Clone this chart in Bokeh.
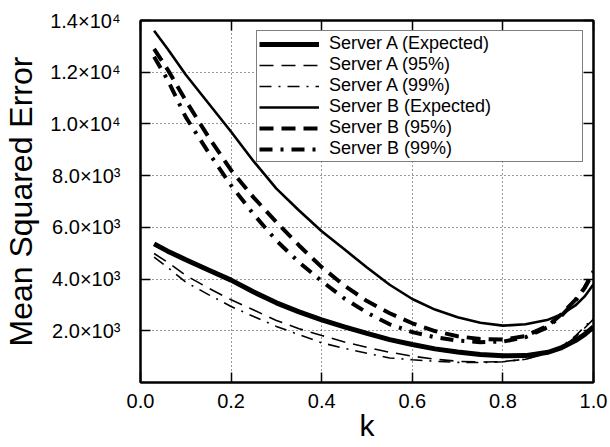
from bokeh.plotting import figure
from bokeh.models import LinearAxis, FixedTicker, Range1d, Legend, LegendItem, Grid
from bokeh.embed import file_html
from bokeh.resources import INLINE

k = [0.03, 0.06, 0.1, 0.15, 0.2, 0.25, 0.3, 0.35, 0.4, 0.45, 0.5, 0.55, 0.6,
     0.65, 0.7, 0.75, 0.8, 0.85, 0.9, 0.93, 0.96, 0.98, 1.0]

server_a_expected = [5360, 5080, 4750, 4350, 3960, 3500, 3080, 2730, 2420, 2150, 1900, 1660,
                     1470, 1300, 1180, 1080, 1030, 1040, 1170, 1350, 1620, 1850, 2150]
server_a_95 = [4990, 4650, 4140, 3650, 3200, 2800, 2400, 2080, 1820, 1570, 1360, 1170,
               1020, 900, 820, 790, 810, 900, 1130, 1350, 1750, 2100, 2450]
server_a_99 = [4850, 4450, 3880, 3400, 2940, 2550, 2170, 1850, 1535, 1320, 1130, 950,
               880, 820, 780, 770, 800, 900, 1150, 1400, 1800, 2150, 2500]
server_b_expected = [13600, 12900, 11900, 10800, 9700, 8550, 7500, 6650, 5850, 5150, 4450, 3780,
                     3230, 2820, 2520, 2310, 2200, 2250, 2430, 2640, 2980, 3320, 3800]
server_b_95 = [12900, 12100, 10900, 9500, 8210, 7150, 6200, 5300, 4460, 3750, 3150, 2680,
               2290, 1990, 1790, 1680, 1660, 1800, 2200, 2650, 3200, 3650, 4300]
server_b_99 = [12600, 11700, 10260, 8900, 7620, 6500, 5490, 4650, 3920, 3250, 2700, 2250,
               1950, 1750, 1620, 1560, 1580, 1750, 2150, 2600, 3150, 3650, 4250]

series_labels = ["Server A (Expected)", "Server A (95%)", "Server A (99%)",
                 "Server B (Expected)", "Server B (95%)", "Server B (99%)"]

x_ticks = [0.0, 0.2, 0.4, 0.6, 0.8, 1.0]
x_tick_labels = ["0.0", "0.2", "0.4", "0.6", "0.8", "1.0"]
y_ticks = [2000, 4000, 6000, 8000, 10000, 12000, 14000]
y_tick_labels = ["2.0×10³", "4.0×10³", "6.0×10³", "8.0×10³", "1.0×10⁴", "1.2×10⁴", "1.4×10⁴"]

FONT = "Liberation Sans"

p = figure(width=610, height=447, output_backend="svg", toolbar_location=None,
           x_range=Range1d(0, 1), y_range=Range1d(0, 14000),
           min_border_left=136, min_border_right=17, min_border_top=20, min_border_bottom=65,
           x_axis_location=None, y_axis_location=None)
p.background_fill_color = "white"
p.border_fill_color = "white"
p.outline_line_color = "black"
p.outline_line_width = 2


def make_axis(ticks, labels, show_labels):
    ax = LinearAxis(ticker=FixedTicker(ticks=ticks))
    ax.major_tick_in = 10
    ax.major_tick_out = 0
    ax.minor_tick_in = 0
    ax.minor_tick_out = 0
    ax.major_tick_line_color = "black"
    ax.major_tick_line_width = 1.5
    ax.axis_line_color = "black"
    ax.axis_line_width = 2
    ax.major_label_text_font = FONT
    ax.major_label_text_color = "black"
    ax.axis_label_text_color = "black"
    if show_labels:
        ax.major_label_overrides = {t: l for t, l in zip(ticks, labels)}
        ax.major_label_text_font_size = "20px"
    else:
        ax.major_label_overrides = {t: "" for t in ticks}
        ax.major_label_text_font_size = "1px"
        ax.major_label_standoff = 0
        ax.axis_label_standoff = 0
    return ax


left = make_axis(y_ticks, y_tick_labels, True)
left.major_label_standoff = 20
left.axis_label = "Mean Squared Error"
left.axis_label_text_font = FONT
left.axis_label_text_font_size = "32px"
left.axis_label_text_font_style = "normal"
left.axis_label_standoff = 8
p.add_layout(left, "left")

bottom = make_axis(x_ticks, x_tick_labels, True)
bottom.major_label_standoff = 11
bottom.axis_label = "k"
bottom.axis_label_text_font = FONT
bottom.axis_label_text_font_size = "30px"
bottom.axis_label_text_font_style = "normal"
bottom.axis_label_standoff = -2
p.add_layout(bottom, "below")

p.add_layout(make_axis(x_ticks, x_tick_labels, False), "above")
p.add_layout(make_axis(y_ticks, y_tick_labels, False), "right")

p.xgrid.visible = False
p.ygrid.visible = False
xg = Grid(dimension=0, ticker=FixedTicker(ticks=x_ticks), grid_line_color="black",
          grid_line_dash="1 3", grid_line_width=1, grid_line_alpha=0.8)
yg = Grid(dimension=1, ticker=FixedTicker(ticks=y_ticks), grid_line_color="black",
          grid_line_dash="1 3", grid_line_width=1, grid_line_alpha=0.8)
p.add_layout(xg)
p.add_layout(yg)

r_ae = p.line(k, server_a_expected, line_color="black", line_width=5)
r_a95 = p.line(k, server_a_95, line_color="black", line_width=1.6, line_dash="14 8")
r_a99 = p.line(k, server_a_99, line_color="black", line_width=1.6, line_dash="12 7 2 7")
r_be = p.line(k, server_b_expected, line_color="black", line_width=2.6)
r_b95 = p.line(k, server_b_95, line_color="black", line_width=4, line_dash="14 8")
r_b99 = p.line(k, server_b_99, line_color="black", line_width=4, line_dash="13 8 3 8")

renderers = [r_ae, r_a95, r_a99, r_be, r_b95, r_b99]
legend = Legend(items=[LegendItem(label=lab, renderers=[r]) for lab, r in zip(series_labels, renderers)],
                location="top_right")
legend.label_text_font = FONT
legend.label_text_font_size = "18px"
legend.label_text_color = "black"
legend.glyph_width = 60
legend.glyph_height = 18
legend.label_height = 18
legend.label_width = 251
legend.label_standoff = 10
legend.spacing = 0
legend.padding = 2
legend.margin = 10
legend.border_line_color = "black"
legend.border_line_width = 1.5
legend.background_fill_color = "white"
legend.background_fill_alpha = 1.0
p.add_layout(legend)

open("out.html", "w").write(file_html(p, INLINE))
